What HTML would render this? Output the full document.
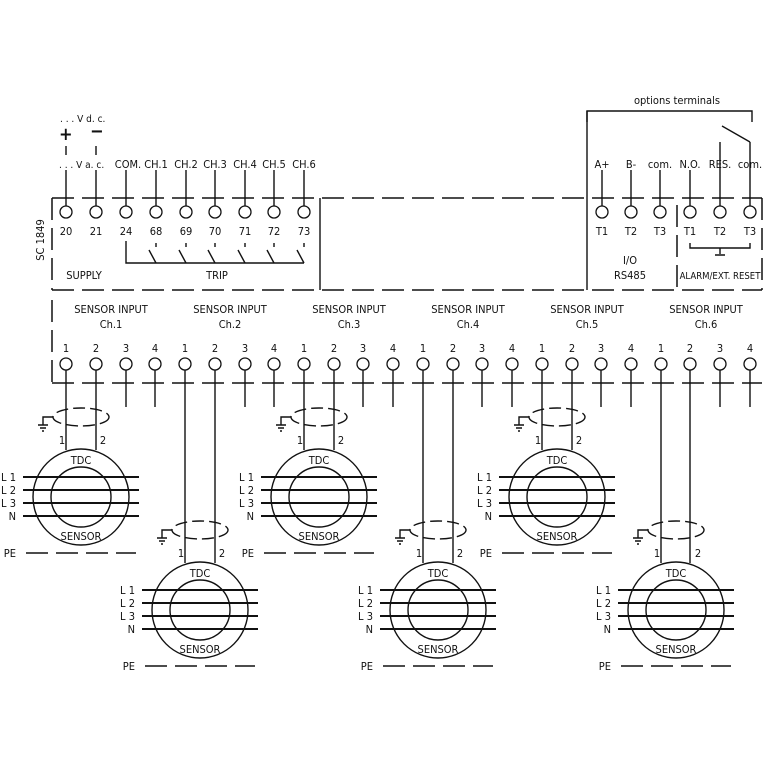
<!DOCTYPE html>
<html><head><meta charset="utf-8"><style>
html,body{margin:0;padding:0;background:#fff}
svg{display:block}
text{font-family:"DejaVu Sans Condensed","Liberation Sans",sans-serif;font-size:11px;fill:#111}
.s{stroke:#111;stroke-width:1.4;fill:none}
.t{stroke:#111;stroke-width:2;fill:none}
.d{stroke:#111;stroke-width:1.5;fill:none;stroke-dasharray:22 8}
.c{stroke:#111;stroke-width:1.3;fill:#fff}
</style></head><body>
<svg width="767" height="767" viewBox="0 0 767 767" xmlns="http://www.w3.org/2000/svg">
<defs>
<g id="sen">
<circle class="s" cx="0" cy="0" r="48"/>
<circle class="s" cx="0" cy="0" r="30"/>
<path class="t" d="M-58 -20H58M-58 -7H58M-58 6H58M-58 19H58"/>
<path class="d" d="M-55 56H55"/>
<ellipse class="s" cx="0" cy="-80" rx="28" ry="9" stroke-dasharray="12 5"/>
<path class="s" d="M-28 -80H-38V-72M-43 -72H-33M-41 -69H-35M-39 -66H-37"/>
</g>
</defs>
<text x="60" y="122" style="font-size:10px">. . . V d. c.</text>
<text x="59" y="140" style="font-size:18px;font-weight:bold">+</text>
<text x="90" y="137" style="font-size:18px;font-weight:bold">−</text>
<path class="s" d="M66 146V155M96 146V155M722 126L750 142M720 142V150"/>
<text x="59" y="168" style="font-size:10px">. . . V a. c.</text>
<g text-anchor="middle" style="font-size:10.5px">
<text x="128" y="168">COM.</text><text x="156" y="168">CH.1</text><text x="186" y="168">CH.2</text><text x="215" y="168">CH.3</text><text x="245" y="168">CH.4</text><text x="274" y="168">CH.5</text><text x="304" y="168">CH.6</text>
<text x="602" y="168">A+</text><text x="631" y="168">B-</text><text x="660" y="168">com.</text>
<text x="690" y="168">N.O.</text><text x="720" y="168">RES.</text><text x="750" y="168">com.</text>
<text x="677" y="104">options terminals</text>
</g>
<path class="s" d="M587 122V111H752V122M750 142V150"/>
<path class="d" d="M52 198H762M52 290H762"/>
<path class="d" d="M52 198V290M762 198V290M677 205V290"/>
<path class="s" d="M320 198V290M587 111V290"/>
<text x="44" y="240" transform="rotate(-90 44 240)" text-anchor="middle">SC 1849</text>
<g class="s">
<path d="M66 170V206M96 170V206M126 170V206M156 170V206M186 170V206M215 170V206M245 170V206M274 170V206M304 170V206M602 170V206M631 170V206M660 170V206M690 170V206M720 150V206M750 150V206"/>
</g>
<g class="c">
<circle cx="66" cy="212" r="6"/><circle cx="96" cy="212" r="6"/><circle cx="126" cy="212" r="6"/><circle cx="156" cy="212" r="6"/><circle cx="186" cy="212" r="6"/><circle cx="215" cy="212" r="6"/><circle cx="245" cy="212" r="6"/><circle cx="274" cy="212" r="6"/><circle cx="304" cy="212" r="6"/>
<circle cx="602" cy="212" r="6"/><circle cx="631" cy="212" r="6"/><circle cx="660" cy="212" r="6"/><circle cx="690" cy="212" r="6"/><circle cx="720" cy="212" r="6"/><circle cx="750" cy="212" r="6"/>
</g>
<g text-anchor="middle">
<text x="66" y="235">20</text><text x="96" y="235">21</text><text x="126" y="235">24</text><text x="156" y="235">68</text><text x="186" y="235">69</text><text x="215" y="235">70</text><text x="245" y="235">71</text><text x="274" y="235">72</text><text x="304" y="235">73</text>
<text x="602" y="235">T1</text><text x="631" y="235">T2</text><text x="660" y="235">T3</text><text x="690" y="235">T1</text><text x="720" y="235">T2</text><text x="750" y="235">T3</text>
<text x="630" y="264">I/O</text><text x="630" y="279">RS485</text>
<text x="720" y="279" style="font-size:9.5px">ALARM/EXT. RESET</text>
<text x="84" y="279">SUPPLY</text><text x="217" y="279">TRIP</text>
</g>
<path class="s" d="M126 241V263H304"/>
<g class="s">
<path d="M156 243V247M149 250L156 263M186 243V247M179 250L186 263M215 243V247M208 250L215 263M245 243V247M238 250L245 263M274 243V247M267 250L274 263M304 243V247M297 250L304 263"/>
<path d="M690 243V248H750V243M720 248V254M715 255H725"/>
</g>
<path class="d" d="M52 383H762"/>
<path class="d" d="M52 300V383"/>
<g text-anchor="middle">
<text x="111" y="313">SENSOR INPUT</text><text x="111" y="328">Ch.1</text>
<text x="230" y="313">SENSOR INPUT</text><text x="230" y="328">Ch.2</text>
<text x="349" y="313">SENSOR INPUT</text><text x="349" y="328">Ch.3</text>
<text x="468" y="313">SENSOR INPUT</text><text x="468" y="328">Ch.4</text>
<text x="587" y="313">SENSOR INPUT</text><text x="587" y="328">Ch.5</text>
<text x="706" y="313">SENSOR INPUT</text><text x="706" y="328">Ch.6</text>
</g>
<g text-anchor="middle">
<text x="66" y="352">1</text><text x="96" y="352">2</text><text x="126" y="352">3</text><text x="155" y="352">4</text>
<text x="185" y="352">1</text><text x="215" y="352">2</text><text x="245" y="352">3</text><text x="274" y="352">4</text>
<text x="304" y="352">1</text><text x="334" y="352">2</text><text x="363" y="352">3</text><text x="393" y="352">4</text>
<text x="423" y="352">1</text><text x="453" y="352">2</text><text x="482" y="352">3</text><text x="512" y="352">4</text>
<text x="542" y="352">1</text><text x="572" y="352">2</text><text x="601" y="352">3</text><text x="631" y="352">4</text>
<text x="661" y="352">1</text><text x="690" y="352">2</text><text x="720" y="352">3</text><text x="750" y="352">4</text>
</g>
<g class="s">
<path d="M66 370V450M96 370V450M126 370V407M155 370V407M185 370V563M215 370V563M245 370V407M274 370V407M304 370V450M334 370V450M363 370V407M393 370V407M423 370V563M453 370V563M482 370V407M512 370V407M542 370V450M572 370V450M601 370V407M631 370V407M661 370V563M690 370V563M720 370V407M750 370V407"/>
</g>
<g class="c">
<circle cx="66" cy="364" r="6"/><circle cx="96" cy="364" r="6"/><circle cx="126" cy="364" r="6"/><circle cx="155" cy="364" r="6"/>
<circle cx="185" cy="364" r="6"/><circle cx="215" cy="364" r="6"/><circle cx="245" cy="364" r="6"/><circle cx="274" cy="364" r="6"/>
<circle cx="304" cy="364" r="6"/><circle cx="334" cy="364" r="6"/><circle cx="363" cy="364" r="6"/><circle cx="393" cy="364" r="6"/>
<circle cx="423" cy="364" r="6"/><circle cx="453" cy="364" r="6"/><circle cx="482" cy="364" r="6"/><circle cx="512" cy="364" r="6"/>
<circle cx="542" cy="364" r="6"/><circle cx="572" cy="364" r="6"/><circle cx="601" cy="364" r="6"/><circle cx="631" cy="364" r="6"/>
<circle cx="661" cy="364" r="6"/><circle cx="690" cy="364" r="6"/><circle cx="720" cy="364" r="6"/><circle cx="750" cy="364" r="6"/>
</g>
<use href="#sen" transform="translate(81,497)"/>
<use href="#sen" transform="translate(319,497)"/>
<use href="#sen" transform="translate(557,497)"/>
<use href="#sen" transform="translate(200,610)"/>
<use href="#sen" transform="translate(438,610)"/>
<use href="#sen" transform="translate(676,610)"/>
<g text-anchor="middle">
<text x="81" y="464">TDC</text><text x="81" y="540">SENSOR</text><text x="62" y="444">1</text><text x="103" y="444">2</text>
<text x="319" y="464">TDC</text><text x="319" y="540">SENSOR</text><text x="300" y="444">1</text><text x="341" y="444">2</text>
<text x="557" y="464">TDC</text><text x="557" y="540">SENSOR</text><text x="538" y="444">1</text><text x="579" y="444">2</text>
<text x="200" y="577">TDC</text><text x="200" y="653">SENSOR</text><text x="181" y="557">1</text><text x="222" y="557">2</text>
<text x="438" y="577">TDC</text><text x="438" y="653">SENSOR</text><text x="419" y="557">1</text><text x="460" y="557">2</text>
<text x="676" y="577">TDC</text><text x="676" y="653">SENSOR</text><text x="657" y="557">1</text><text x="698" y="557">2</text>
</g>
<g text-anchor="end">
<text x="16" y="481">L 1</text><text x="16" y="494">L 2</text><text x="16" y="507">L 3</text><text x="16" y="520">N</text><text x="16" y="557">PE</text>
<text x="254" y="481">L 1</text><text x="254" y="494">L 2</text><text x="254" y="507">L 3</text><text x="254" y="520">N</text><text x="254" y="557">PE</text>
<text x="492" y="481">L 1</text><text x="492" y="494">L 2</text><text x="492" y="507">L 3</text><text x="492" y="520">N</text><text x="492" y="557">PE</text>
<text x="135" y="594">L 1</text><text x="135" y="607">L 2</text><text x="135" y="620">L 3</text><text x="135" y="633">N</text><text x="135" y="670">PE</text>
<text x="373" y="594">L 1</text><text x="373" y="607">L 2</text><text x="373" y="620">L 3</text><text x="373" y="633">N</text><text x="373" y="670">PE</text>
<text x="611" y="594">L 1</text><text x="611" y="607">L 2</text><text x="611" y="620">L 3</text><text x="611" y="633">N</text><text x="611" y="670">PE</text>
</g>
</svg>
</body></html>
